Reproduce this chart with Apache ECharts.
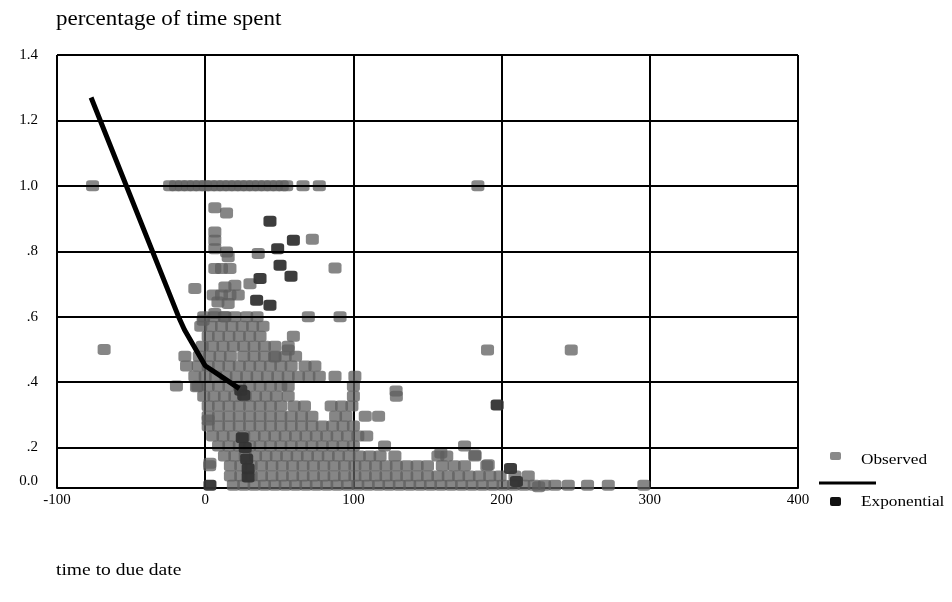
<!DOCTYPE html>
<html>
<head>
<meta charset="utf-8">
<title>percentage of time spent</title>
<script src="https://cdn.jsdelivr.net/npm/echarts@6/dist/echarts.min.js"></script>
<style>
  html, body { margin: 0; padding: 0; background: #fff; }
  #main { width: 952px; height: 602px; }
</style>
</head>
<body>
<div id="main"></div>
<script>
// axis ticks and labels
const xTicks = [-100, 0, 100, 200, 300, 400];
const yTickValues = [0.097, 0.2, 0.4, 0.6, 0.8, 1.0, 1.2, 1.4];
const yTickLabels = ['0.0', '.2', '.4', '.6', '.8', '1.0', '1.2', '1.4'];
const yGridValues = [0.2, 0.4, 0.6, 0.8, 1.0, 1.2, 1.4];

// observed points read row by row from the dense cluster: [y, [x, x, ...]]
const obsRows = [
    [1.0, [-76, -24, -20, -16, -12, -8, -4, 0, 4, 8, 12, 16, 20, 24, 28, 32, 36, 40, 44, 48, 52, 55, 66, 77, 184]],
    [0.60, [-1, 6, 13, 20, 28, 35, 69.6, 91]],
    [0.571, [-3, 4, 11, 18, 25, 32, 39]],
    [0.54, [2, 9, 16, 23, 30, 37, 59.5]],
    [0.51, [-2, 5, 12, 19, 26, 33, 40, 47, 56]],
    [0.479, [-13.7, -4, 3, 10, 17, 26, 33, 40, 47, 54, 61]],
    [0.449, [-12.6, -4.7, 2, 9, 16, 23, 30, 37, 44, 51, 58, 67.4, 74]],
    [0.418, [-7, 0, 7, 14, 21, 28, 35, 42, 49, 56, 63, 70, 77, 87.6, 101]],
    [0.388, [-19.4, -5, 2, 9, 16, 23, 30, 37, 44, 51, 56, 100]],
    [0.357, [-1, 6, 13, 20, 27, 34, 41, 48, 56, 100, 129]],
    [0.327, [2, 9, 16, 23, 30, 37, 44, 51, 60, 67, 85, 92, 99]],
    [0.296, [2, 9, 16, 23, 30, 37, 44, 51, 58, 65, 72, 88, 95, 108, 117]],
    [0.266, [2, 9, 16, 23, 30, 37, 44, 51, 58, 65, 72, 79, 86, 93, 100]],
    [0.235, [5, 12, 19, 26, 33, 40, 47, 54, 61, 68, 75, 82, 89, 96, 103, 109]],
    [0.205, [9, 16, 23, 30, 37, 44, 51, 58, 65, 72, 79, 86, 93, 100, 121, 175]],
    [0.174, [13, 20, 27, 34, 41, 48, 55, 62, 69, 76, 83, 90, 97, 104, 111, 118, 128, 157, 163, 182]],
    [0.144, [3, 17, 24, 31, 38, 45, 52, 59, 66, 73, 80, 87, 94, 101, 108, 115, 122, 129, 136, 143, 150, 160, 168, 175, 190]],
    [0.113, [17, 24, 31, 38, 45, 52, 59, 66, 73, 80, 87, 94, 101, 108, 115, 122, 129, 136, 143, 150, 157, 164, 171, 178, 185, 192, 199, 209, 218]],
    [0.085, [19, 26, 33, 40, 47, 54, 61, 68, 75, 82, 89, 96, 103, 110, 117, 124, 131, 138, 145, 152, 159, 166, 173, 180, 187, 194, 201, 208, 215, 222, 229, 236, 245, 258, 272, 296]]
];

// scattered observed points outside the rows
const obsExtra = [
    [6.5, 0.933], [14.4, 0.917], [6.5, 0.859], [6.5, 0.834], [6.5, 0.808], [14.4, 0.798],
    [15.5, 0.783], [35.8, 0.793], [72.3, 0.837], [87.6, 0.749], [6.5, 0.747], [11, 0.747],
    [16.7, 0.747], [-7, 0.686], [13.3, 0.691], [20, 0.696], [5.4, 0.666], [11, 0.666],
    [16.7, 0.666], [22.3, 0.666], [8.6, 0.645], [15.5, 0.64], [30.2, 0.701], [6.5, 0.61],
    [13.3, 0.6], [-68.2, 0.5], [-1.4, 0.589], [190.5, 0.498], [247, 0.498], [2, 0.284],
    [3.2, 0.152], [-5.9, 0.386], [47, 0.477], [56, 0.498], [128.8, 0.373], [182, 0.177],
    [191, 0.147], [159, 0.183], [225, 0.08]
];

// darker observed points (incl. the dark column inside the cluster)
const obsDark = [
    [43.7, 0.892], [48.9, 0.808], [59.5, 0.834], [50.5, 0.757], [57.9, 0.724], [37, 0.717],
    [34.7, 0.65], [43.7, 0.635], [3.2, 0.085], [197, 0.33], [206, 0.136], [210, 0.096],
    [24, 0.375], [26, 0.36], [25, 0.23], [27, 0.2], [28, 0.165], [29, 0.135], [29, 0.11]
];

// exponential fit curve
const expX = [-77, -18, -14, 0, 10, 23];
const expY = [1.27, 0.6, 0.56, 0.45, 0.42, 0.38];

const FONT = 'Liberation Serif';
const STRETCH = 1.15;

function buildObserved() {
    var data = [];
    obsRows.forEach(function (row) {
        row[1].forEach(function (x) {
            data.push([x, row[0]]);
        });
    });
    obsExtra.forEach(function (p) {
        data.push(p);
    });
    obsDark.forEach(function (p) {
        data.push({ value: p, itemStyle: { color: '#333', opacity: 0.95 } });
    });
    return data;
}

function label(text, x, y, size) {
    return {
        type: 'text', x: x, y: y, scaleX: STRETCH,
        style: {
            text: text, font: size + 'px "' + FONT + '"', fill: '#000',
            textVerticalAlign: 'middle'
        }
    };
}

var chart = echarts.init(document.getElementById('main'), null, { renderer: 'canvas' });

var option = {
    animation: false,
    backgroundColor: '#fff',
    grid: { left: 57, right: 154, top: 55, bottom: 114, outerBoundsMode: 'none' },
    xAxis: {
        type: 'value',
        min: xTicks[0],
        max: xTicks[xTicks.length - 1],
        interval: 100,
        axisLine: { show: true, lineStyle: { color: '#000', width: 2 } },
        axisTick: { show: false },
        axisLabel: { fontFamily: FONT, fontSize: 15, color: '#000', margin: 5 },
        splitLine: { show: true, lineStyle: { color: '#000', width: 2 } }
    },
    yAxis: {
        type: 'value',
        min: 0.0763,
        max: 1.4,
        axisLine: { show: true, lineStyle: { color: '#000', width: 2 } },
        axisTick: {
            show: true, length: 4,
            customValues: yGridValues,
            lineStyle: { color: '#000', width: 2 }
        },
        axisLabel: {
            fontFamily: FONT, fontSize: 15, color: '#000', margin: 19,
            customValues: yTickValues,
            formatter: function (v) {
                var i = yTickValues.indexOf(v);
                return i >= 0 ? yTickLabels[i] : '';
            }
        },
        splitLine: { show: false }
    },
    series: [
        {
            name: 'Observed',
            type: 'scatter',
            symbol: 'roundRect',
            symbolSize: [13, 11],
            itemStyle: { color: '#5e5e5e', opacity: 0.75 },
            data: buildObserved(),
            z: 3
        },
        {
            name: 'Exponential',
            type: 'line',
            symbol: 'none',
            lineStyle: { color: '#000', width: 5 },
            data: expX.map(function (x, i) { return [x, expY[i]]; }),
            z: 4,
            markLine: {
                silent: true,
                symbol: 'none',
                label: { show: false },
                lineStyle: { color: '#000', width: 2, type: 'solid' },
                data: yGridValues.map(function (v) { return { yAxis: v }; })
            }
        }
    ],
    graphic: [
        label('percentage of time spent', 56, 20, 20),
        label('time to due date', 56, 571, 17),
        { type: 'rect', shape: { x: 830, y: 452, width: 11, height: 8, r: 2 }, style: { fill: '#8a8a8a' } },
        label('Observed', 861, 460, 15),
        { type: 'line', shape: { x1: 819, y1: 483, x2: 876, y2: 483 }, style: { stroke: '#000', lineWidth: 3 } },
        { type: 'rect', shape: { x: 830, y: 497, width: 11, height: 9, r: 2 }, style: { fill: '#111' } },
        label('Exponential', 861, 502, 15)
    ]
};

chart.setOption(option);
</script>
</body>
</html>
